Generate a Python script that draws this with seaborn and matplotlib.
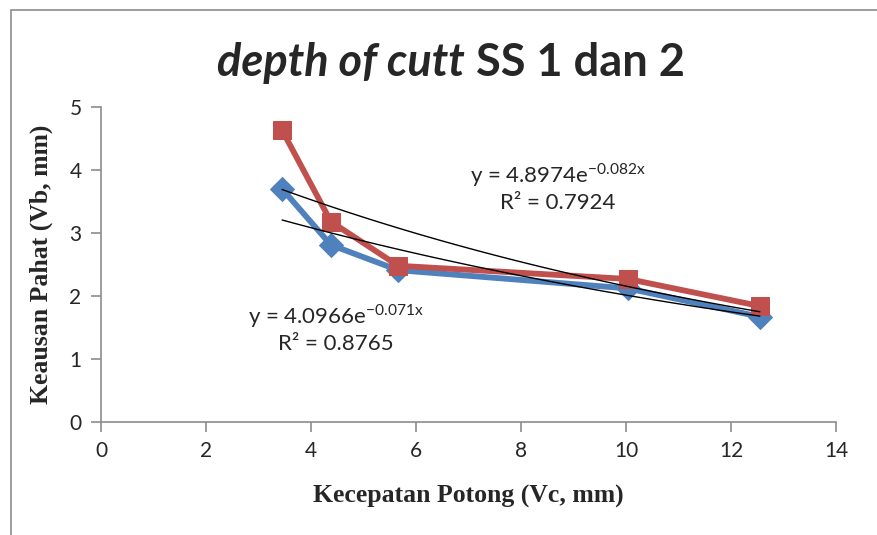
import numpy as np
import pandas as pd
import matplotlib
matplotlib.use("Agg")
import matplotlib.pyplot as plt
import seaborn as sns

# data
vc = [3.45, 4.38, 5.66, 10.04, 12.55]
vb_ss1 = [3.70, 2.81, 2.41, 2.12, 1.67]
vb_ss2 = [4.63, 3.18, 2.48, 2.27, 1.84]

# koefisien trendline eksponensial (dari label persamaan)
trend_a = [4.8974, 4.0966]
trend_b = [-0.082, -0.071]
trend_label = ["y = 4.8974e$^{\\mathregular{-0.082x}}$\nR² = 0.7924",
               "y = 4.0966e$^{\\mathregular{-0.071x}}$\nR² = 0.8765"]

x_ticks = [0, 2, 4, 6, 8, 10, 12, 14]
y_ticks = [0, 1, 2, 3, 4, 5]

sns.set_style("white")
plt.rcParams['font.family'] = ['Lato', 'DejaVu Sans']
plt.rcParams['mathtext.fontset'] = 'custom'
plt.rcParams['mathtext.rm'] = 'Lato'

df = pd.DataFrame({'Vc': vc, 'SS1': vb_ss1, 'SS2': vb_ss2})

fig = plt.figure(figsize=(8.78, 5.35), dpi=100)
ax = fig.add_axes([101 / 878, 1 - 422 / 535, 735 / 878, 315 / 535])

# bingkai luar
fig.patches.append(plt.Rectangle((11 / 878, -0.1), 1.2, 1 - 10 / 535 + 0.1,
                                 transform=fig.transFigure, fill=False,
                                 edgecolor='#8c8c8c', lw=1.2))

sns.lineplot(data=df, x='Vc', y='SS1', ax=ax, color='#4F81BD', lw=4.2,
             marker='D', markersize=12, markeredgecolor='#4F81BD', zorder=3)
sns.lineplot(data=df, x='Vc', y='SS2', ax=ax, color='#C0504D', lw=4.2,
             marker='s', markersize=13.5, markeredgecolor='#C0504D', zorder=4)

xs = np.linspace(vc[0], vc[-1], 100)
for a, b in zip(trend_a, trend_b):
    ax.plot(xs, a * np.exp(b * xs), color='black', lw=1, zorder=5)

ax.annotate(trend_label[0], xy=(558 / 878, 1 - 187 / 535), xycoords='figure fraction',
            ha='center', va='center', fontsize=16, linespacing=1.25)
ax.annotate(trend_label[1], xy=(336 / 878, 1 - 328 / 535), xycoords='figure fraction',
            ha='center', va='center', fontsize=16, linespacing=1.25)

ax.set_xlim(0, 14)
ax.set_ylim(0, 5)
ax.set_xticks(x_ticks)
ax.set_yticks(y_ticks)
ax.tick_params(axis='both', direction='out', length=7, width=1.2, color='#8c8c8c',
               labelsize=15, pad=7, left=True, bottom=True)
for s in ['top', 'right']:
    ax.spines[s].set_visible(False)
for s in ['left', 'bottom']:
    ax.spines[s].set_color('#8c8c8c')
    ax.spines[s].set_linewidth(1.2)

ax.set_xlabel('Kecepatan Potong (Vc, mm)', family='Liberation Serif',
              fontweight='bold', fontsize=18.5, labelpad=17)
ax.set_ylabel('Keausan Pahat (Vb, mm)', family='Liberation Serif',
              fontweight='bold', fontsize=18.5, labelpad=12)

# judul: bagian miring + bagian tegak
fig.text(465 / 878, 1 - 63 / 535, 'depth of cutt', fontsize=32.5, fontweight='bold',
         style='italic', ha='right', va='center')
fig.text(465 / 878, 1 - 63 / 535, ' SS 1 dan 2', fontsize=32.5, fontweight='bold',
         ha='left', va='center')

fig.savefig('out.png', dpi=100)
